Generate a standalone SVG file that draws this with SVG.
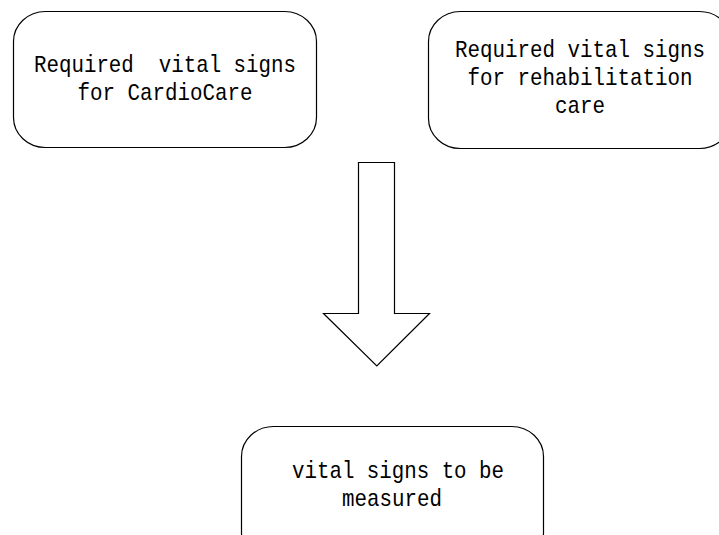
<svg xmlns="http://www.w3.org/2000/svg" width="719" height="535" viewBox="0 0 719 535">
  <style>
    .box { fill: #ffffff; stroke: #000000; stroke-width: 1.2; }
    .lbl { font-family: "Liberation Mono", "DejaVu Sans Mono", monospace; font-size: 24px; fill: #000000; text-anchor: middle; white-space: pre; }
    .arrow { fill: #ffffff; stroke: #000000; stroke-width: 1.2; stroke-linejoin: miter; }
  </style>
  <rect width="719" height="535" fill="#ffffff"/>

  <g id="node-cardiocare">
    <rect class="box" x="13.5" y="11.5" width="303" height="136" rx="32" ry="30"/>
    <text class="lbl" x="165" y="72" textLength="262" lengthAdjust="spacingAndGlyphs" xml:space="preserve">Required  vital signs</text>
    <text class="lbl" x="165" y="100" textLength="175" lengthAdjust="spacingAndGlyphs">for CardioCare</text>
  </g>

  <g id="node-rehabilitation">
    <rect class="box" x="428.5" y="11.5" width="303" height="137" rx="32" ry="30"/>
    <text class="lbl" x="580" y="57" textLength="250" lengthAdjust="spacingAndGlyphs">Required vital signs</text>
    <text class="lbl" x="580" y="85" textLength="225" lengthAdjust="spacingAndGlyphs">for rehabilitation</text>
    <text class="lbl" x="580" y="113" textLength="50" lengthAdjust="spacingAndGlyphs">care</text>
  </g>

  <g id="connectors">
    <path class="arrow" d="M358.5,162.5 H394.5 V313.5 H429.5 L376.8,366 L323.5,313.5 H358.5 Z"/>
  </g>

  <g id="node-measured">
    <rect class="box" x="241.5" y="426.5" width="302" height="136" rx="32" ry="30"/>
    <text class="lbl" x="398" y="478" textLength="212" lengthAdjust="spacingAndGlyphs">vital signs to be</text>
    <text class="lbl" x="392" y="506" textLength="100" lengthAdjust="spacingAndGlyphs">measured</text>
  </g>
</svg>
